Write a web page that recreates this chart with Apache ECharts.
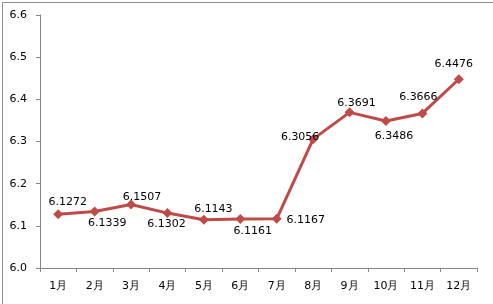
<!DOCTYPE html>
<html><head><meta charset="utf-8">
<script src="https://cdn.jsdelivr.net/npm/echarts@6/dist/echarts.min.js"></script>
<style>html,body{margin:0;padding:0;background:#fff}#c{width:493px;height:304px}</style>
</head><body><div id="c"></div>
<script>
const categories = ['1月','2月','3月','4月','5月','6月','7月','8月','9月','10月','11月','12月'];
const values = [6.1272, 6.1339, 6.1507, 6.1302, 6.1143, 6.1161, 6.1167, 6.3056, 6.3691, 6.3486, 6.3666, 6.4476];
const yTicks = {min: 6.0, max: 6.6, interval: 0.1};
// label placement (style, relative to each marker centre)
const labelOffsets = [[9.5,-12.6],[12.7,11.7],[11,-7],[-1,10.7],[9.5,-10.7],[12.5,12],[29,1.7],[-13,-2],[7,-9.7],[8,15.4],[-4,-16.3],[-5,-15.3]];

const font = 'DejaVu Sans';
const chart = echarts.init(document.getElementById('c'), null, {renderer: 'canvas'});
chart.setOption({
  animation: false,
  backgroundColor: '#fff',
  graphic: [{type: 'rect', left: 0, top: 0, shape: {x: 0.5, y: 0.5, width: 492, height: 303},
    style: {fill: 'none', stroke: '#8c8c8c', lineWidth: 1}, silent: true, z: 100}],
  grid: {left: 40, right: 16, top: 15, bottom: 36, containLabel: false},
  xAxis: {
    type: 'category', data: categories, boundaryGap: true,
    axisLine: {lineStyle: {color: '#868686', width: 1}},
    axisTick: {show: true, length: 4, alignWithLabel: false, lineStyle: {color: '#868686'}},
    axisLabel: {color: '#000', fontFamily: font, fontSize: 11, margin: 13, interval: 0},
    splitLine: {show: false}
  },
  yAxis: {
    type: 'value', min: yTicks.min, max: yTicks.max, interval: yTicks.interval,
    axisLine: {show: true, lineStyle: {color: '#868686', width: 1}},
    axisTick: {show: true, length: 4, lineStyle: {color: '#868686'}},
    axisLabel: {color: '#000', fontFamily: font, fontSize: 11, margin: 13,
      formatter: v => v.toFixed(1)},
    splitLine: {show: false}
  },
  series: [{
    type: 'line',
    data: values.map((v, i) => ({value: v, label: {position: 'inside', offset: labelOffsets[i]}})),
    symbol: 'diamond', symbolSize: 10,
    lineStyle: {color: '#BE4B48', width: 3},
    itemStyle: {color: '#BE4B48'},
    label: {show: true, color: '#000', fontFamily: font, fontSize: 11,
      formatter: p => p.value.toFixed(4)}
  }]
});
</script></body></html>
